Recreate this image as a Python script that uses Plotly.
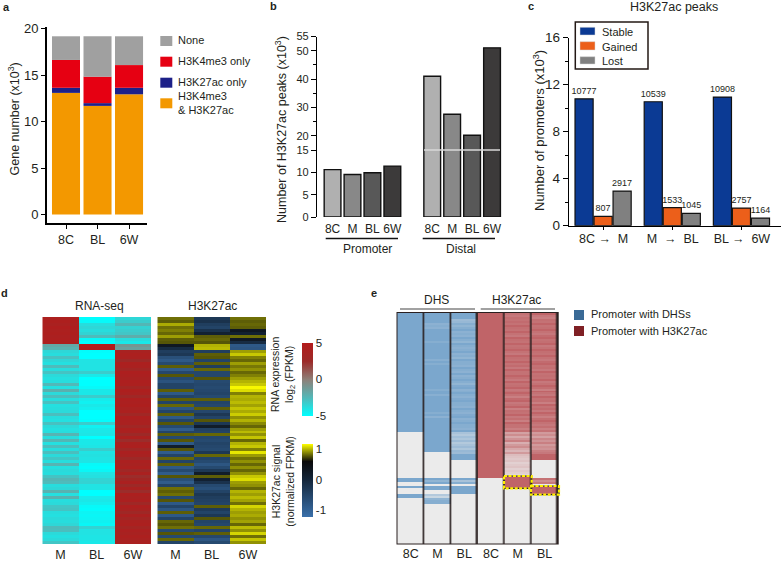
import plotly.graph_objects as go

W, H = 781, 561
FONT = "Liberation Sans, Arial, sans-serif"
INK = "#231f20"

# ---------- panel a ----------
a_stages = ["8C", "BL", "6W"]
a_both = [13.1, 11.7, 12.95]
a_k27 = [0.55, 0.3, 0.7]
a_k4 = [3.0, 2.85, 2.45]
a_none = [2.55, 4.35, 3.1]
a_names = ["H3K4me3<br>& H3K27ac", "H3K27ac only", "H3K4me3 only", "None"]
a_colors = ["#f39800", "#1d2088", "#e60012", "#a0a0a0"]

# ---------- panel b ----------
b_stages = ["8C", "M", "BL", "6W"]
b_promoter = [10.6, 9.5, 9.9, 11.4]
b_distal = [41.0, 27.6, 20.2, 51.0]
b_colors = ["#b0b0b0", "#888888", "#585858", "#3c3a3a"]

# ---------- panel c ----------
c_steps = ["8C \u2192  M", "M  \u2192  BL", "BL \u2192  6W"]
c_stable = [10.8, 10.55, 10.95]
c_gained = [0.8, 1.53, 1.5]
c_lost = [2.95, 1.05, 0.65]
c_stable_labels = ["10777", "10539", "10908"]
c_gained_labels = ["807", "1533", "2757"]
c_lost_labels = ["2917", "1045", "1164"]
c_names = ["Stable", "Gained", "Lost"]
c_colors = ["#0b3a94", "#ec5f1a", "#808080"]

# ---------- panel d ----------
d_rna_cols = ["M", "BL", "6W"]
d_k27_cols = ["M", "BL", "6W"]
rna_m = [4.2,4.4,4.0,4.5,4.2,4.4,4.1,4.3,4.4,-1.8,
         -2.2,-3.6,-3.8,-2.8,-3.6,-3.9,-2.6,-3.8,-2.9,-3.7,
         -3.9,-3.8,-2.5,-3.9,-2.1,-3.7,-2.7,-3.8,-2.8,-3.9,
         -3.8,-3.7,-2.7,-3.8,-3.9,-2.8,-3.7,-3.9,-3.8,-2.3,
         -3.8,-2.4,-3.9,-2.7,-3.8,-2.7,-3.7,-3.0,-3.8,-2.3,
         -3.9,-3.7,-3.8,-2.9,-2.4,-2.6,-3.8,-3.6,-2.2,-3.9,
         -2.2,-3.8,-3.7,-3.0,-2.9,-3.8,-3.9,-3.7,-3.8,-3.6,
         -2.6,-2.7,-3.7,-3.9,-3.7,-3.0]
rna_bl = [-5,-4.8,-3.8,-3.6,-3.8,-3.5,-2.6,-4.8,-5,5,
          5,-4.9,-5,-5,-4,-4,-4,-4,-3.2,-4.2,
          -5,-5,-5,-4.8,-4.2,-4.2,-3.2,-4.3,-4.5,-4.2,
          -4.4,-5,-5,-5,-4.9,-3.2,-4.5,-4.2,-4.2,-4.1,
          -5,-4.2,-4.2,-4.1,-3.2,-4,-3.9,-4,-4.1,-4.8,
          -4.9,-4.7,-4,-3.9,-3.5,-3.4,-4,-4,-5,-5,
          -4.3,-4.2,-4.4,-4.8,-4.9,-4.6,-4.7,-4.6,-4.5,-4.7,
          -3.4,-4,-4,-4.1,-4.1,-4.2]
rna_6w = [-3.6,-3.2,-2.4,-3.4,-3.2,-3.0,-2.0,-3.8,-4.2,-1.0,
          -1.4,3.8,4.2,4.0,2.6,4.2,4.0,3.2,4.3,4.1,
          3.8,4.3,4.2,3.2,4.4,4.0,2.8,4.3,4.1,4.4,
          3.9,4.2,3.0,4.3,4.1,4.0,3.0,4.2,4.0,2.6,
          4.2,2.4,4.0,4.2,2.8,4.1,3.8,2.6,4.1,3.8,
          4.2,2.8,4.0,2.4,3.2,4.1,2.6,4.0,2.4,4.2,
          3.8,4.1,2.8,4.3,3.8,2.8,4.1,3.2,4.0,4.2,
          3.4,4.1,3.8,4.2,3.9,4.0]
k27_m = [.84,.8,.98,.84,.88,.82,.95,.8,.78,.3,
         -.1,-.4,-.3,-.7,-.85,-.6,.8,-.9,-.55,.78,
         -.6,-.75,-.5,-.5,.8,-.85,-.5,.8,-.5,.82,
         -.8,-.5,.8,-.85,-.5,.78,-.6,-.9,-.5,.8,
         -.6,.78,-.85,.2,.78,-.9,-.5,.82,-.5,.8,
         -.85,-.6,-.9,.78,-.7,-.9,-.5,.84,.8,.84,
         -.6,.78,-.85,-.5,-.8,.8,-.85,-.5,.82,.78,
         .84,-.6,.78,-.6,.82,-.5]
k27_bl = [-.3,-.2,-.4,-.5,-.2,.1,.8,.82,.78,1.0,
          1.02,-.4,.8,.78,-.5,.8,-.4,.82,-.55,-.55,
          .78,-.6,-.55,-.6,-.55,-.5,-.6,.8,-.5,-.55,
          .8,-.55,-.3,-.5,.78,-.3,.2,-.45,-.5,.82,
          -.55,-.6,-.5,-.55,-.6,-.3,.82,-.5,-.6,-.8,
          -.6,-.3,.2,.8,.1,-.2,-.6,-.7,-.5,-.3,
          -.4,-.45,-.5,.8,-.35,-.5,-.3,.78,-.5,-.55,
          .82,-.5,.8,-.55,-.8,-.6]
k27_6w = [.84,.8,.82,.8,.3,.1,.84,.25,-.1,-.85,
          -.8,.95,1.05,.88,.82,.95,.86,.92,.82,.88,
          .95,1.0,1.05,1.16,1.1,.88,1.0,.98,1.02,.96,
          1.04,.98,1.06,.92,1.0,.9,.82,.95,1.02,.92,
          1.04,.82,1.0,1.05,.88,1.12,.94,.84,.92,.82,
          .92,.82,.92,1.05,1.1,.95,.92,.82,1.0,.95,
          1.02,.96,.84,1.08,1.0,.95,.98,.92,.96,.82,
          1.02,.92,1.08,.84,1.04,.92]

# ---------- panel e ----------
e_cols = ["8C", "M", "BL"]
dhs_8c = [1]*60 + [0]*23 + [1]*2 + [0]*2 + [1] + [0]*3 + [1]*2 + [0]*23
dhs_m = ([1]*5 + [.85,.9,.85] + [1]*6 + [.9] + [1]*8 + [.88,1,.9] + [1]*12 + [.9,1,1,.88] + [1]*8 + [.9,1,.85] + [1]*17
         + [0]*13 + [1,.8,1] + [0] + [1,1] + [0,0] + [.5,.3,.8,.9,.9] + [0]*20)
dhs_bl = ([1,1,1,.7,.75,.9,.8,.9,1,.85,.9,.85,1,.9,.8,1,.9,.85,.9,1,
           .85,.9,.8,1,.9,.9,.85,1,.9,.85,1,.85,.9,1,.9,.8,.95,1,.85,.9,
           1,.9,.85,.95,1,.9,.9,.85,1,.9,.85,.95,1,.85,.9,1,.9,.9,.85,1]
          + [.6,.5,.65,.55,.7,.5,.6,.7,.55,.75,.7] + [1]*3 + [0]*9 + [1,.6,.9] + [0] + [1]*4 + [0]*25)
ac_8c = [1]*83 + [0]*33
ac_m = ([.9,.85,.92,.9,.95,.9,1,.92,.9,1,.9,.85,1,.92,.9,1,.9,.92,1,.9,
         .85,1,.92,.9,1,.9,.95,.85,1,.9,.9,1,.92,.85,1,.9,.92,1,.85,.9,
         1,.9,.8,.95,1,.85,.9,1,.8,.92,.9,1,.85,.92,.8,1,.9,.9,.8,.92]
        + [.55,.7,.5,.65,.8,.45,.6,.7,.5,.4,.6] + [.35,.3,.25,.3,.2,.25,.3,.2,.25,.2,.15]
        + [1]*6 + [0]*28)
ac_bl = ([1,.85,.8,.92,.9,1,.9,.92,1,.9,.85,.95,1,.9,.92,1,.85,.9,1,.92,
          .9,1,.9,.85,.95,1,.9,.92,.85,1,.9,.92,.9,1,.85,.9,1,.92,.8,1,
          .9,.85,1,.9,.92,.8,1,.9,.95,.85,1,.9,.8,.92,1,.9,.85,.92,.8,.9]
         + [.6,.7,.55,.75,.65,.8,.6,.7,.65,.8,.85] + [1]*3 + [0]*9 + [.9,.7,.85] + [0] + [1]*4 + [0]*25)
e_legend = ["Promoter with DHSs", "Promoter with H3K27ac"]


def xdom(a, b):
    return [a / W, b / W]


def ydom(top, bottom):
    return [1 - bottom / H, 1 - top / H]


def paper_line(x0, y0, x1, y1, color=INK, width=1.0, dash=None, layer="above"):
    return dict(type="line", xref="paper", yref="paper", x0=x0 / W, x1=x1 / W,
                y0=1 - y0 / H, y1=1 - y1 / H, layer=layer,
                line=dict(color=color, width=width, dash=dash or "solid"))


def paper_rect(x0, y0, x1, y1, fill=None, line=None, width=0, dash=None, layer="above"):
    return dict(type="rect", xref="paper", yref="paper", x0=x0 / W, x1=x1 / W,
                y0=1 - y0 / H, y1=1 - y1 / H, layer=layer,
                fillcolor=fill or "rgba(0,0,0,0)",
                line=dict(color=line or "rgba(0,0,0,0)", width=width, dash=dash or "solid"))


def text(x, y, s, size=12, angle=0, bold=False, anchor="center", color=INK, align="center"):
    return dict(xref="paper", yref="paper", x=x / W, y=1 - y / H, text=f"<b>{s}</b>" if bold else s,
                showarrow=False, xanchor=anchor, yanchor="middle", textangle=angle,
                font=dict(size=size, color=color, family=FONT), align=align)


fig = go.Figure()

# panel a: stacked through each trace's base
a_series = [a_both, a_k27, a_k4, a_none]
a_base = [0.0, 0.0, 0.0]
for name, vals, col in zip(a_names, a_series, a_colors):
    fig.add_trace(go.Bar(x=a_stages, y=vals, base=list(a_base), name=name,
                         marker=dict(color=col, line=dict(width=0)), xaxis="x", yaxis="y"))
    a_base = [b + v for b, v in zip(a_base, vals)]

# panel b: broken axis drawn on two y axes that share one x axis
b_x_pro = list(range(4))
b_x_dis = [i + 5 for i in range(4)]
fig.add_trace(go.Bar(x=b_x_pro + b_x_dis, y=b_promoter + b_distal, width=0.84,
                     marker=dict(color=b_colors * 2, line=dict(color="#111111", width=1.4)),
                     xaxis="x2", yaxis="y2"))
fig.add_trace(go.Bar(x=b_x_dis, y=b_distal, width=0.84,
                     marker=dict(color=b_colors, line=dict(color="#111111", width=1.4)),
                     xaxis="x2", yaxis="y3"))

# panel c: dodged per trace
c_series = [(c_stable, c_stable_labels), (c_gained, c_gained_labels), (c_lost, c_lost_labels)]
for (vals, labs), name, col, off in zip(c_series, c_names, c_colors, [-0.413, -0.138, 0.137]):
    fig.add_trace(go.Bar(x=c_steps, y=vals, name=name, text=labs, textposition="outside", cliponaxis=False,
                         offset=off, width=0.262, constraintext="none",
                         textfont=dict(size=9, color=INK, family=FONT), textangle=0,
                         marker=dict(color=col, line=dict(color="#111111", width=1.2)),
                         xaxis="x3", yaxis="y4"))

# panel d
rna_scale = [[0, "#00ffff"], [0.25, "#52b8b8"], [0.5, "#8e8078"], [0.75, "#9c2a28"], [1, "#b31b1b"]]
k27_scale = [[0, "#3a70aa"], [1.24 / 2.42, "#14263a"], [1.84 / 2.42, "#0a0a0a"], [1, "#ffff00"]]
fig.add_trace(go.Heatmap(z=[list(r) for r in zip(rna_m, rna_bl, rna_6w)], x=d_rna_cols, colorscale=rna_scale,
                         zmin=-5, zmax=5, xaxis="x4", yaxis="y5", hoverinfo="skip",
                         colorbar=dict(x=301.5 / W, xanchor="left", xpad=0, y=1 - 342.5 / H, yanchor="top", ypad=0,
                                       lenmode="pixels", len=73, thicknessmode="pixels", thickness=11,
                                       outlinewidth=0, ticks="", tickvals=[-5, 0, 5], ticktext=["-5", "0", "5"],
                                       tickfont=dict(size=11.5, color=INK, family=FONT))))
fig.add_trace(go.Heatmap(z=[list(r) for r in zip(k27_m, k27_bl, k27_6w)], x=d_k27_cols, colorscale=k27_scale,
                         zmin=-1.24, zmax=1.18, xaxis="x5", yaxis="y6", hoverinfo="skip",
                         colorbar=dict(x=301.5 / W, xanchor="left", xpad=0, y=1 - 444 / H, yanchor="top", ypad=0,
                                       lenmode="pixels", len=73, thicknessmode="pixels", thickness=11,
                                       outlinewidth=0, ticks="", tickvals=[-1, 0, 1], ticktext=["-1", "0", "1"],
                                       tickfont=dict(size=11.5, color=INK, family=FONT))))

# panel e
fig.add_trace(go.Heatmap(z=[list(r) for r in zip(dhs_8c, dhs_m, dhs_bl)], x=e_cols,
                         colorscale=[[0, "#ebebeb"], [1, "#7ba7cd"]], zmin=0, zmax=1, xgap=1.6, showscale=False,
                         xaxis="x6", yaxis="y7", hoverinfo="skip"))
fig.add_trace(go.Heatmap(z=[list(r) for r in zip(ac_8c, ac_m, ac_bl)], x=e_cols,
                         colorscale=[[0, "#ebebeb"], [1, "#c06468"]], zmin=0, zmax=1, xgap=1.6, showscale=False,
                         xaxis="x7", yaxis="y8", hoverinfo="skip"))

tf = dict(size=12.5, color=INK, family=FONT)
hidden_y = dict(visible=False, autorange="reversed")
band_x = dict(showline=False, ticks="", tickfont=tf, showgrid=False, zeroline=False, ticklabelstandoff=1)

# hand-placed keys, as the reference places them
a_key_y = [(98.3, 108.3), (77.7, 87.7), (56.7, 66.7), (36, 46)]
c_key_y = [(27.3, 35), (41.7, 50), (56.7, 64)]
key_shapes = [paper_rect(160.3, t, 172.3, b, fill=c) for (t, b), c in zip(a_key_y, a_colors)]
c_box = [paper_rect(575.3, 22, 648, 69, fill="white", line="#231815", width=1.5)]
key_shapes += [paper_rect(580, t, 595, b, fill=c, line="#d8d8d8", width=0.5) for (t, b), c in zip(c_key_y, c_colors)]

layout = dict(
    width=W, height=H, margin=dict(l=0, r=0, t=0, b=0, autoexpand=False), autosize=False,
    paper_bgcolor="white", plot_bgcolor="rgba(0,0,0,0)", barmode="overlay", showlegend=False,
    font=dict(family=FONT, color=INK, size=12),
    # a
    xaxis=dict(domain=xdom(47, 147), range=[-0.603, 2.57], showline=True, linecolor="black", linewidth=2,
               ticks="outside", ticklen=4, tickwidth=1.2, tickcolor="black", tickfont=tf, showgrid=False, zeroline=False,
               anchor="y", automargin=False),
    yaxis=dict(domain=ydom(27, 223), range=[-0.916, 20.2], showline=True, linecolor="black", linewidth=2,
               ticks="outside", ticklen=4, tickwidth=1.2, tickcolor="black", tickvals=[0, 5, 10, 15, 20],
               tickfont=dict(size=13, color=INK, family=FONT), showgrid=False, zeroline=False, anchor="x", automargin=False),
    bargap=0.11,
    # b
    xaxis2=dict(domain=xdom(317, 502), range=[-0.78, 8.5], showline=False, ticks="", tickvals=b_x_pro + b_x_dis,
                ticktext=b_stages * 2, tickfont=dict(size=12, color=INK, family=FONT), showgrid=False, zeroline=False,
                anchor="y2", automargin=False, ticklabelstandoff=3),
    yaxis2=dict(domain=ydom(150, 217), range=[0, 15], showline=True, linecolor="black", linewidth=1.2, ticks="outside",
                ticklen=5, tickwidth=1.2, tickcolor="black", tickvals=[0, 5, 10, 15], showgrid=False, zeroline=False,
                tickfont=dict(size=11, color=INK, family=FONT), anchor="x2", automargin=False),
    yaxis3=dict(domain=ydom(36.5, 150), range=[15, 55], showline=True, linecolor="black", linewidth=1.2, ticks="outside",
                ticklen=5, tickwidth=1.2, tickcolor="black", tickvals=[20, 30, 40, 50, 55], showgrid=False, zeroline=False,
                minor=dict(tickvals=[25, 35, 45], ticks="outside", ticklen=3, tickwidth=1, tickcolor="black"),
                tickfont=dict(size=11, color=INK, family=FONT), anchor="x2", automargin=False),
    # c
    xaxis3=dict(domain=xdom(569, 781), range=[-0.5, 2.565], showline=True, linecolor="black", linewidth=1.4,
                ticks="outside", ticklen=3, tickwidth=1.2, tickcolor="black", tickfont=tf, showgrid=False, zeroline=False,
                anchor="y4", automargin=False, ticklabelstandoff=-2),
    yaxis4=dict(domain=ydom(37.7, 225.7), range=[0, 16], showline=True, linecolor="black", linewidth=1.4,
                ticks="outside", ticklen=5, tickwidth=1.2, tickcolor="black", tickvals=[0, 4, 8, 12, 16],
                minor=dict(tickvals=[2, 6, 10, 14], ticks="outside", ticklen=3, tickwidth=1, tickcolor="black"),
                tickfont=dict(size=13.5, color=INK, family=FONT), showgrid=False, zeroline=False, anchor="x3", automargin=False),
    # d
    xaxis4=dict(domain=xdom(42.3, 151), anchor="y5", **band_x),
    yaxis5=dict(domain=ydom(317, 544), anchor="x4", **hidden_y),
    xaxis5=dict(domain=xdom(157.3, 266), anchor="y6", **band_x),
    yaxis6=dict(domain=ydom(317, 544), anchor="x5", **hidden_y),
    # e
    xaxis6=dict(domain=xdom(397.3, 477.6), anchor="y7", **band_x),
    yaxis7=dict(domain=ydom(313, 543.5), anchor="x6", **hidden_y),
    xaxis7=dict(domain=xdom(477.6, 558), anchor="y8", **band_x),
    yaxis8=dict(domain=ydom(313, 543.5), anchor="x7", **hidden_y),
    shapes=[
        paper_line(424, 150, 500, 150, color="#d8d8d8", width=1.3),
        paper_line(325.7, 238.5, 398, 238.5, color="#111111", width=1.6),
        paper_line(422.7, 238.5, 495, 238.5, color="#111111", width=1.6),
        paper_line(400, 309, 475, 309, color="#444444", width=1.2),
        paper_line(480.7, 309, 555, 309, color="#444444", width=1.2),
        paper_rect(396.5, 312, 558.7, 544.5, fill="#2a2020", layer="below"),
        paper_rect(504, 476, 531.7, 488.3, line="#222222", width=1.2),
        paper_rect(504, 476, 531.7, 488.3, line="#fff000", width=2.2, dash="3px,1.5px"),
        paper_rect(531, 486, 559, 494.7, line="#222222", width=1.2),
        paper_rect(531, 486, 559, 494.7, line="#fff000", width=2.2, dash="3px,1.5px"),
        paper_rect(574, 310, 584, 320, fill="#3a6a96"),
        paper_rect(574, 326, 584, 336, fill="#7f2025"),
    ] + c_box + key_shapes,
    annotations=[
        text(6, 7, "a", 11, bold=True), text(273, 6, "b", 11, bold=True), text(531, 6, "c", 11, bold=True),
        text(4, 293, "d", 11, bold=True), text(374, 293, "e", 11, bold=True),
        text(13, 119.5, "Gene number (x10<sup>3</sup>)", 12.5, angle=-90),
        text(281, 130, "Number of H3K27ac peaks (x10<sup>3</sup>)", 12.5, angle=-90),
        text(367.7, 249, "Promoter", 12), text(461, 249, "Distal", 12),
        text(674, 7, "H3K27ac peaks", 12.5),
        text(539, 131, "Number of promoters (x10<sup>3</sup>)", 13, angle=-90),
        text(99, 306, "RNA-seq", 12), text(213, 306, "H3K27ac", 12),
        text(283, 375, "RNA expression<br>log<sub>2</sub> (FPKM)", 10.5, angle=-90),
        text(283, 481.7, "H3K27ac signal<br>(normalized FPKM)", 10.5, angle=-90),
        text(436.7, 300, "DHS", 12), text(516.7, 300, "H3K27ac", 12),
        text(589, 314.5, e_legend[0], 11, anchor="left"), text(589, 330.5, e_legend[1], 11, anchor="left"),
        text(176, 40, a_names[3], 11, anchor="left"), text(176, 61, a_names[2], 11, anchor="left"),
        text(176, 82, a_names[1], 11, anchor="left"),
        text(176, 103, a_names[0], 11, anchor="left", align="left"),
        text(600, 32, c_names[0], 11, anchor="left"), text(600, 46.5, c_names[1], 11, anchor="left"),
        text(600, 61, c_names[2], 11, anchor="left"),
    ],
)
fig.update_layout(**layout)
fig.write_html("out.html", post_script="document.body.style.margin='0';", config=dict(displayModeBar=False))
